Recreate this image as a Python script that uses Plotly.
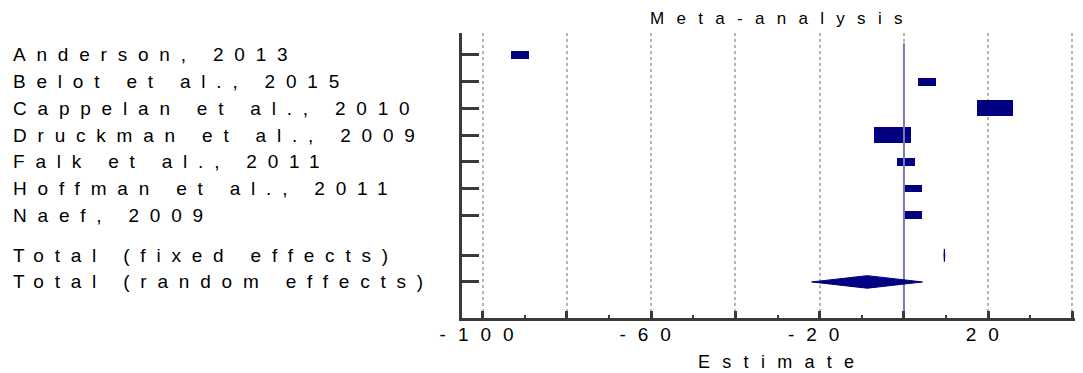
import plotly.graph_objects as go

# ---- data ----
studies = ["Anderson, 2013", "Belot et al., 2015", "Cappelan et al., 2010",
           "Druckman et al., 2009", "Falk et al., 2011", "Hoffman et al., 2011",
           "Naef, 2009"]
estimates = [-91.2, 5.5, 21.7, -2.7, 0.4, 2.25, 2.25]
weights = [1, 1, 2, 2, 1, 1, 1]          # relative study weight (box size)

total_labels = ["Total (fixed effects)", "Total (random effects)"]
total_est = [9.6, -8.7]
total_lo = [9.5, -21.9]
total_hi = [9.7, 4.4]

x_major = [-100, -80, -60, -40, -20, 0, 20, 40]
x_ticktext = ["-100", "", "-60", "", "-20", "", "20", ""]
x_minor = [-90, -70, -50, -30, -10, 10, 30]
null_effect = 0
x_title = "Estimate"
chart_title = "Meta-analysis"

# ---- styling ----
NAVY = "#000080"
AXIS = "#3a3a3a"
FONT = "Liberation Sans, Arial, sans-serif"

# page body has an 8px default margin -> figure is drawn 8px right/down
OFF = 8
W, H = 1083, 373
PLOT_L, PLOT_T, PLOT_B = 462 - OFF, 33 - OFF, 318 - OFF
PLOT_R = W - OFF
PLOT_W = PLOT_R - PLOT_L
PLOT_H = PLOT_B - PLOT_T


def spaced(t, ls):
    return f'<span style="letter-spacing:{ls}px">{t}</span>' if t else ""


n = len(studies)
rows = list(range(n))
total_rows = [n + 0.5, n + 1.5]
y_top, y_bottom = -0.82, n + 2.85

fig = go.Figure()

# null-effect line
fig.add_trace(go.Scatter(x=[null_effect, null_effect], y=[-0.44, y_bottom],
                         mode="lines", line=dict(color="#7c7cb4", width=2),
                         hoverinfo="skip", showlegend=False))

# study boxes (size proportional to weight)
half_w = [2.15 * w for w in weights]
box_h = [0.295 * w for w in weights]
fig.add_trace(go.Bar(orientation="h", y=rows,
                     base=[e - h for e, h in zip(estimates, half_w)],
                     x=[2 * h for h in half_w], width=box_h,
                     marker=dict(color=NAVY, line=dict(width=0)),
                     hoverinfo="skip", showlegend=False))

# pooled diamonds
dh = 0.235
for r, e, lo, hi in zip(total_rows, total_est, total_lo, total_hi):
    fig.add_trace(go.Scatter(x=[lo, e, hi, e, lo], y=[r, r - dh, r, r + dh, r],
                             mode="lines", fill="toself", fillcolor=NAVY,
                             line=dict(color=NAVY, width=1),
                             hoverinfo="skip", showlegend=False))

# left-aligned row labels
for r, t in zip(rows + total_rows, studies + total_labels):
    fig.add_annotation(x=-(PLOT_L - (11 - OFF)) / PLOT_W, xref="paper", xanchor="left",
                       y=r, yref="y", yanchor="middle", showarrow=False,
                       text=spaced(t, 10.8), font=dict(family=FONT, size=19, color="black"))

# chart title and x-axis title
fig.add_annotation(x=(776 - OFF - PLOT_L + 6) / PLOT_W, xref="paper", xanchor="center",
                   y=(PLOT_B - (18 - OFF)) / PLOT_H, yref="paper", yanchor="middle",
                   showarrow=False, text=spaced(chart_title, 12.3),
                   font=dict(family=FONT, size=17, color="black"))
fig.add_annotation(x=(776 - OFF - PLOT_L + 6) / PLOT_W, xref="paper", xanchor="center",
                   y=(PLOT_B - (361.5 - OFF)) / PLOT_H, yref="paper", yanchor="middle",
                   showarrow=False, text=spaced(x_title, 12.3),
                   font=dict(family=FONT, size=18, color="black"))

fig.update_layout(
    width=W, height=H,
    margin=dict(l=PLOT_L, r=W - PLOT_R, t=PLOT_T, b=H - PLOT_B),
    paper_bgcolor="white", plot_bgcolor="white",
    font=dict(family=FONT, color="black"),
    bargap=0,
)

fig.update_xaxes(range=[-104.9, 42.5], showline=True, linewidth=3, linecolor=AXIS,
                 ticks="inside", ticklen=7, tickwidth=2.5, tickcolor=AXIS,
                 tickmode="array", tickvals=x_major,
                 ticktext=[spaced(t, 12) for t in x_ticktext],
                 tickfont=dict(family=FONT, size=19, color="black"),
                 ticklabelstandoff=-3,
                 showgrid=True, griddash="dot", gridcolor="#b4b4b4", gridwidth=1.5,
                 zeroline=False,
                 minor=dict(tickmode="array", tickvals=x_minor, ticks="inside",
                            ticklen=3, tickwidth=2, tickcolor=AXIS, showgrid=False))

fig.update_yaxes(range=[y_bottom, y_top], showline=True, linewidth=3, linecolor=AXIS,
                 ticks="inside", ticklen=17, tickwidth=2.5, tickcolor=AXIS,
                 tickmode="array", tickvals=rows + total_rows, showticklabels=False,
                 showgrid=False, zeroline=False)

fig.write_html("out.html")
